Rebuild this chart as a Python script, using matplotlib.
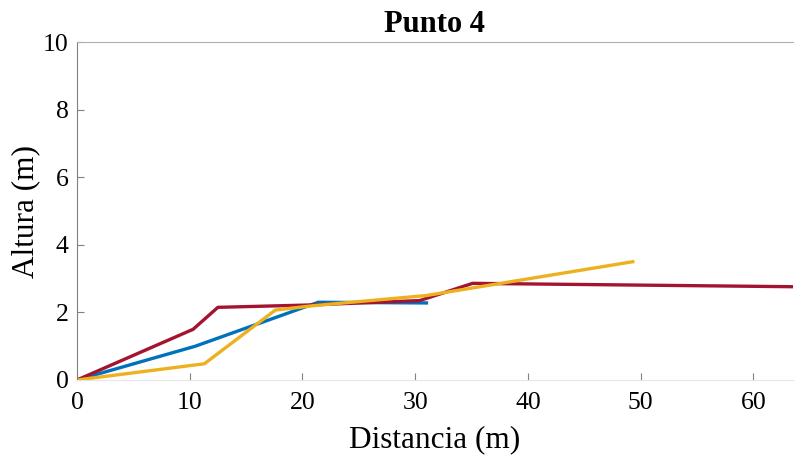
import numpy as np
import matplotlib.pyplot as plt

# perfiles
x_azul = [0, 10.5, 21.4, 31.0]
y_azul = [0, 1.0, 2.3, 2.28]

x_rojo = [0, 10.3, 12.5, 20.7, 30.4, 35.1, 63.5]
y_rojo = [0, 1.5, 2.15, 2.22, 2.35, 2.86, 2.76]

x_amarillo = [0, 11.3, 17.6, 21.0, 31.0, 49.3]
y_amarillo = [0, 0.48, 2.07, 2.2, 2.5, 3.5]

plt.rcParams['font.family'] = ['Liberation Serif', 'DejaVu Serif']

fig = plt.figure(figsize=(7.96, 4.57), dpi=100)
ax = fig.add_axes([0.0967, 0.1685, 0.8993, 0.7395])

ax.plot(x_azul, y_azul, color='#0072BD', lw=2.4)
ax.plot(x_rojo, y_rojo, color='#A2142F', lw=2.4)
ax.plot(x_amarillo, y_amarillo, color='#EDB120', lw=2.4)

ax.set_xlim(0, 63.5)
ax.set_ylim(0, 10)
ax.set_xticks([0, 10, 20, 30, 40, 50, 60])
ax.set_yticks([0, 2, 4, 6, 8, 10])
ax.tick_params(direction='in', length=5, labelsize=18.5, color='#808080')
ax.tick_params(axis='x', pad=9)
ax.tick_params(axis='y', pad=6)
ax.spines['right'].set_visible(False)
ax.spines['left'].set_color('#808080')
ax.spines['top'].set_color('#b0b0b0')
ax.spines['bottom'].set_color('#e6e6e6')
ax.set_xlabel('Distancia (m)', fontsize=22.5, labelpad=8)
ax.set_ylabel('Altura (m)', fontsize=22.5, labelpad=2)
ax.set_title('Punto 4', fontsize=22, fontweight='bold', pad=7)

plt.savefig('out.png', dpi=100)
